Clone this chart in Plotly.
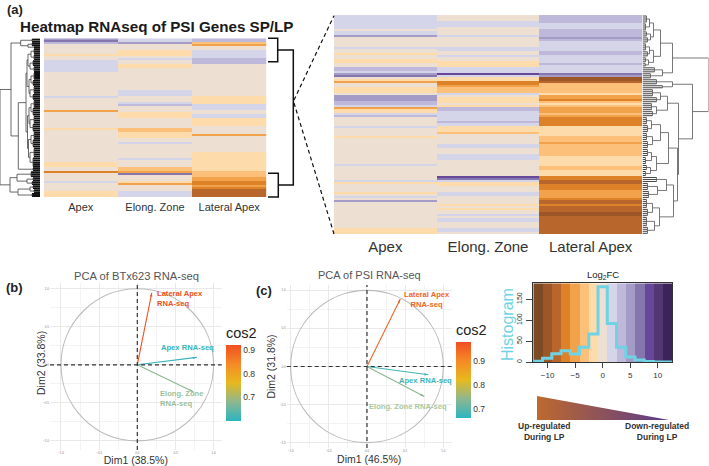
import math
import numpy as np
import plotly.graph_objects as go
from plotly.colors import sample_colorscale

W = 709
H = 466

# colour bands of the log2FC key, brown (up in LP) to purple (down in LP)
band_levels = [-7, -6, -5, -4, -3, -2, -1, 0, 1, 2, 3, 4, 5, 6, 7]
band_colors = ["#7D4A24", "#9C5628", "#B9662D", "#DD8229", "#F2A24A", "#FDC07A", "#FDDBAB", "#EDE0D2",
               "#D5D5E9", "#BEB8DA", "#A49BC6", "#8676AE", "#66479A", "#533775", "#3C2458"]
key_edges = [-12.6, -10.92, -9.24, -7.56, -5.88, -4.2, -2.52, -0.84, 0.84, 2.52, 4.2, 5.88, 7.56, 9.24, 10.92, 12.6]
hist_counts = [2, 9, 20, 27, 19, 35, 67, 180, 92, 35, 12, 5, 1, 0, 0]

columns = ["Apex", "Elong. Zone", "Lateral Apex"]

# heatmap columns as (band, number of rows), top to bottom
left_apex = [(3,1),(4,1),(2,1),(0,5),(-1,1),(0,2),(1,6),(0,12),(1,1),(0,6),(-3,1),(0,8),(-1,1),(0,16),
             (-1,3),(0,2),(-4,1),(0,4),(1,1),(0,4),(-1,3)]
left_elong = [(1,2),(3,1),(0,3),(-1,3),(0,1),(1,1),(0,2),(-1,2),(0,11),(1,3),(0,3),(1,1),(2,1),(0,3),(-1,3),
              (0,5),(-2,2),(-1,3),(0,2),(1,1),(0,7),(1,1),(0,4),(-2,2),(-3,1),(4,1),(0,3),(-1,1),(-3,1),(0,3),(1,3)]
left_lateral = [(2,2),(-2,1),(-3,1),(0,2),(1,4),(2,3),(0,16),(-1,4),(1,3),(0,2),(1,2),(-1,4),(0,4),(-3,1),
                (0,8),(-1,10),(-2,3),(-3,2),(-4,2),(-3,1),(-4,1),(-5,4)]

right_apex = [(1,7),(0,1),(1,2),(3,1),(0,5),(1,1),(0,2),(-1,1),(0,2),(-1,2),(0,2),(2,2),(1,1),(3,1),(4,1),(0,1),
              (-1,1),(-3,1),(0,2),(-1,3),(0,1),(3,3),(2,2),(1,1),(-3,1),(-1,2),(1,1),(2,1),(0,5),(1,1),(0,4),
              (-1,1),(0,13),(1,1),(0,7),(1,1),(-1,1),(0,4),(-1,1),(0,1),(1,1),(0,1),(3,1),(0,13),(-1,3)]
right_elong = [(0,3),(1,3),(0,4),(1,1),(0,5),(1,2),(0,2),(1,1),(0,2),(-1,3),(1,3),(5,1),(1,1),(-1,2),(-4,2),(-3,1),
               (-2,3),(1,1),(0,1),(-1,3),(0,1),(-1,1),(2,2),(1,5),(2,1),(1,2),(-1,3),(-2,1),(0,5),(1,2),(0,3),(1,3),
               (0,8),(5,1),(4,1),(1,1),(-1,2),(0,3),(1,2),(0,4),(-1,1),(0,1),(-1,1),(0,2),(1,1),(0,1),(1,2),(0,3),(1,2),(0,1)]
right_lateral = [(2,4),(1,3),(2,2),(2,2),(3,1),(2,1),(1,5),(2,2),(1,4),(2,1),(1,3),(1,1),(4,1),(3,1),(-6,2),(-5,1),
                 (-2,5),(-1,1),(-3,2),(-4,1),(-2,1),(-1,1),(-2,1),(-3,1),(-3,2),(-2,1),(-3,1),(-4,5),(-1,5),(-2,3),
                 (-3,1),(-2,6),(-1,5),(-2,2),(-1,3),(-4,2),(-5,2),(-4,3),(-3,4),(-4,1),(-5,2),(-4,1),(-5,3),(-6,2),(-5,9)]

# dendrograms: (height, child, child); a list is a bunch of rows [first, last, height]
left_tree = (40,
    (29,
     (19.3, [0,1,8], (12,[2,3,8],[4,4,6])),
     (21.7,
      (14,
       (13,(12,(9,[5,7,6],[8,10,6]),(10,[11,13,7],[14,16,6])),(11,(9,[17,20,6],[21,23,7]),(10,[24,27,6],[28,30,7]))),
       (12.5,(11,(9,[31,34,6],[35,38,7]),(10,[39,42,6],[43,46,7])),(11.5,(9,[47,50,6],[51,54,7]),(10,[55,59,6],[60,64,7])))),
      [65,66,7])),
    (30,
     (23,[67,69,9],(13,[70,71,7],[72,73,8])),
     (22,(10,[74,75,7],[76,77,6]),[78,79,8])))

right_tree = (66,
    (30,
     (18,(11,(7,[0,3,4],[4,7,3]),(8,[8,10,4],[11,13,5])),(11,(7,[14,17,3],[18,20,5]),(6,[21,23,3],[24,25,3]))),
     (20,[26,28,12],[29,31,8])),
    (50,
     (30,[32,34,14],[35,36,20]),
     (36,
      (25,(18,[37,40,10],[41,43,14]),(14,[44,47,9],[48,50,10])),
      (35,
       (26,(18,(9,[51,54,4],[55,58,5]),(10,[59,62,4],[63,66,5])),(14,(9,[67,70,5],[71,74,3]),(8,[75,77,4],[78,80,3]))),
       (31,(24,[81,83,14],(15,[84,87,5],[88,91,6])),(17,(10,[92,96,4],[97,100,5]),(12,[101,105,4],[106,109,5])))))))

# PCA loadings
b_names = ["Lateral Apex<br>RNA-seq", "Apex RNA-seq", "Elong. Zone<br>RNA-seq"]
b_dim1 = [0.19, 0.778, 0.734]
b_dim2 = [0.947, 0.097, -0.355]
b_cos2 = [0.92, 0.61, 0.68]
c_names = ["Lateral Apex<br>RNA-seq", "Apex RNA-seq", "Elong. Zone RNA-seq"]
c_dim1 = [0.437, 0.803, 0.751]
c_dim2 = [0.886, -0.109, -0.393]
c_cos2 = [0.95, 0.68, 0.74]

cos2_scale = [[0, "#2BB5C2"], [0.25, "#8DB78F"], [0.5, "#E7B91F"], [0.75, "#F58A26"], [1, "#F04E23"]]

FONT = "Liberation Sans"


def px_x(x):
    return x / W


def px_y(y):
    return 1 - y / H


def dom_x(a, b):
    return [px_x(a), px_x(b)]


def dom_y(a, b):
    return [px_y(b), px_y(a)]


def expand(runs):
    return np.repeat([r[0] for r in runs], [r[1] for r in runs])


def walk(node, xs, ys, sx, sy):
    # returns row position of node; stubs go to sx, sy and brackets to xs, ys
    if isinstance(node, list):
        first, last, h = node
        for r in range(first, last + 1):
            sx += [0, h, None]
            sy += [r, r, None]
        xs += [h, h, None]
        ys += [first, last, None]
        return (first + last) / 2, h
    h, a, b = node
    ya, ha = walk(a, xs, ys, sx, sy)
    yb, hb = walk(b, xs, ys, sx, sy)
    xs += [ha, h, h, hb, None]
    ys += [ya, ya, yb, yb, None]
    return (ya + yb) / 2, h


step_scale = []
for i, c in enumerate(band_colors):
    step_scale += [[i / 15, c], [(i + 1) / 15, c]]

fig = go.Figure()


def add_heat(cols, n, xa, ya):
    z = np.column_stack([expand(c) for c in cols])
    fig.add_trace(go.Heatmap(z=z, x=columns, y=list(range(n)), zmin=-7.5, zmax=7.5, colorscale=step_scale,
                             showscale=False, hoverinfo="skip", xaxis=xa, yaxis=ya))


def add_tree(tree, xa, ya, stub_color, stub_width, line_color):
    xs, ys, sx, sy = [], [], [], []
    walk(tree, xs, ys, sx, sy)
    fig.add_trace(go.Scatter(x=sx, y=sy, mode="lines", line=dict(color=stub_color, width=stub_width), xaxis=xa, yaxis=ya,
                             hoverinfo="skip"))
    fig.add_trace(go.Scatter(x=xs, y=ys, mode="lines", line=dict(color=line_color, width=0.8), xaxis=xa, yaxis=ya,
                             hoverinfo="skip"))


add_heat([left_apex, left_elong, left_lateral], 80, "x", "y")
add_heat([right_apex, right_elong, right_lateral], 110, "x2", "y2")
add_tree(left_tree, "x3", "y3", "#111111", 1.8, "#444444")
add_tree(right_tree, "x4", "y4", "#444444", 1, "#555555")


def add_pca(dim1, dim2, cos2, cmin, cmax, xa, ya, bar_x, bar_top):
    t = [(v - cmin) / (cmax - cmin) for v in cos2]
    cols = sample_colorscale(cos2_scale, t)
    for d1, d2, c in zip(dim1, dim2, cols):
        fig.add_trace(go.Scatter(x=[0, d1], y=[0, d2], mode="lines", line=dict(color=c, width=1.1),
                                 xaxis=xa, yaxis=ya, hoverinfo="skip"))
    angles = [math.degrees(math.atan2(d1, d2)) for d1, d2 in zip(dim1, dim2)]
    fig.add_trace(go.Scatter(
        x=dim1, y=dim2, mode="markers", xaxis=xa, yaxis=ya, hoverinfo="skip",
        marker=dict(symbol="arrow", size=4, angle=angles, color=cos2, cmin=cmin, cmax=cmax,
                    colorscale=cos2_scale, showscale=True,
                    colorbar=dict(x=px_x(bar_x), xanchor="left", y=px_y(bar_top - 21), yanchor="top",
                                  thickness=15, thicknessmode="pixels", len=96.5, lenmode="pixels",
                                  xpad=0, ypad=0, outlinewidth=0, ticks="", tickvals=[0.7, 0.8, 0.9],
                                  tickfont=dict(size=8.5, color="#333333", family=FONT),
                                  title=dict(text="cos2", side="top", font=dict(size=14.5, color="#222222", family=FONT))))))
    return cols


b_cols = add_pca(b_dim1, b_dim2, b_cos2, 0.6, 0.923, "x5", "y5", 226, 344.7)
c_cols = add_pca(c_dim1, c_dim2, c_cos2, 0.662, 0.98, "x6", "y6", 456, 342.3)

# histogram on its colour key
fig.add_trace(go.Heatmap(z=[band_levels], x=key_edges, y=[0, 188], zmin=-7.5, zmax=7.5, colorscale=step_scale,
                         showscale=False, hoverinfo="skip", xaxis="x7", yaxis="y7"))
fig.add_trace(go.Scatter(x=key_edges, y=hist_counts + [hist_counts[-1]], mode="lines", line=dict(shape="hv", color="#6FD3E3", width=3),
                         xaxis="x7", yaxis="y7", hoverinfo="skip", cliponaxis=False))

# gradient wedge under the key
fig.add_trace(go.Scatter(x=[0, 0, 1, 0], y=[0, 1, 0, 0], mode="lines", fill="toself", line=dict(width=0),
                         fillgradient=dict(type="horizontal", colorscale=[[0, "#BD6A2E"], [1, "#5B3A8A"]]),
                         xaxis="x8", yaxis="y8", hoverinfo="skip"))

hidden = dict(visible=False)
pca_axis = dict(tickvals=[-1, -0.5, 0, 0.5, 1], tickformat=".1f", tickfont=dict(size=3, color="#777777", family=FONT),
                showgrid=True, gridcolor="#E9E9E9", gridwidth=0.7, zeroline=False, ticks="",
                minor=dict(dtick=0.25, tick0=0, showgrid=True, gridcolor="#F3F3F3", gridwidth=0.5))
dim_font = dict(size=10.5, color="#333333", family=FONT)

fig.update_layout(
    width=W, height=H, margin=dict(l=0, r=0, t=0, b=0), autosize=False, showlegend=False,
    paper_bgcolor="white", plot_bgcolor="white", font=dict(family=FONT, color="#333333"),
    xaxis=dict(domain=dom_x(43.7, 266.3), anchor="y", ticks="", showgrid=False, zeroline=False, ticklabelstandoff=2,
               tickfont=dict(size=11, color="#333333", family=FONT)),
    yaxis=dict(domain=dom_y(38.3, 197), anchor="x", range=[79.5, -0.5], **hidden),
    xaxis2=dict(domain=dom_x(334, 642), anchor="y2", ticks="", showgrid=False, zeroline=False, ticklabelstandoff=2,
                tickfont=dict(size=15, color="#333333", family=FONT)),
    yaxis2=dict(domain=dom_y(15, 234.3), anchor="x2", range=[109.5, -0.5], **hidden),
    xaxis3=dict(domain=dom_x(0, 40), anchor="y3", range=[40, 0], **hidden),
    yaxis3=dict(domain=dom_y(38.3, 197), anchor="x3", range=[79.5, -0.5], **hidden),
    xaxis4=dict(domain=dom_x(642.5, 708.5), anchor="y4", range=[0, 66], **hidden),
    yaxis4=dict(domain=dom_y(15, 234.3), anchor="x4", range=[109.5, -0.5], **hidden),
    xaxis5=dict(domain=dom_x(50, 221.7), anchor="y5", range=[-1.144, 1.106],
                title=dict(text="Dim1 (38.5%)", font=dim_font, standoff=2), **pca_axis),
    yaxis5=dict(domain=dom_y(283, 450), anchor="x5", range=[-1.12, 1.075], **pca_axis),
    xaxis6=dict(domain=dom_x(286.7, 451.7), anchor="y6", range=[-1.052, 1.11],
                title=dict(text="Dim1 (46.5%)", font=dim_font, standoff=2), **pca_axis),
    yaxis6=dict(domain=dom_y(285, 448), anchor="x6", range=[-1.07, 1.07],
                title=dict(text="Dim2 (31.8%)", font=dim_font, standoff=2), **pca_axis),
    xaxis7=dict(domain=dom_x(533.3, 672), anchor="y7", range=[-12.6, 12.6], tickvals=[-10, -5, 0, 5, 10],
                ticks="outside", ticklen=5, tickcolor="#444444", showgrid=False, zeroline=False,
                showline=True, mirror=True, linecolor="#333333", linewidth=1,
                tickfont=dict(size=8, color="#333333", family=FONT)),
    yaxis7=dict(domain=dom_y(283.3, 362), anchor="x7", range=[0, 188], tickvals=[0, 50, 100, 150], tickangle=-90,
                ticks="outside", ticklen=6, tickcolor="#444444", showgrid=False, zeroline=False, ticklabelstandoff=2,
                showline=True, mirror=True, linecolor="#333333", linewidth=1,
                tickfont=dict(size=7, color="#333333", family=FONT)),
    xaxis8=dict(domain=dom_x(537, 669), anchor="y8", range=[0, 1], **hidden),
    yaxis8=dict(domain=dom_y(396, 420), anchor="x8", range=[0, 1], **hidden),
)

shapes = []


def path(points, width=1.5, dash="solid", color="#111111"):
    d = "M" + " L".join(f"{px_x(x):.5f},{px_y(y):.5f}" for x, y in points)
    shapes.append(dict(type="path", path=d, xref="paper", yref="paper", line=dict(color=color, width=width, dash=dash)))


# brackets and zoom guides between the two heatmaps
path([(268, 38.3), (277.7, 38.3), (277.7, 61.7), (268, 61.7)])
path([(277.7, 50), (293.3, 50), (293.3, 185), (279, 185)])
path([(268, 173.3), (278.3, 173.3), (278.3, 197), (268, 197)])
path([(294, 100), (334, 15.7)], width=1.2, dash="4px,3px")
path([(294, 103), (334, 234)], width=1.2, dash="4px,3px")

for xa, ya in [("x5", "y5"), ("x6", "y6")]:
    shapes.append(dict(type="circle", xref=xa, yref=ya, x0=-1, x1=1, y0=-1, y1=1, line=dict(color="#BBBBBB", width=1.1)))
    shapes.append(dict(type="line", xref=xa + " domain", yref=ya, x0=0, x1=1, y0=0, y1=0,
                       line=dict(color="#333333", width=1.2, dash="4px,3px")))
    shapes.append(dict(type="line", xref=xa, yref=ya + " domain", x0=0, x1=0, y0=0, y1=1,
                       line=dict(color="#333333", width=1.2, dash="4px,3px")))
fig.update_layout(shapes=shapes)


def label(x, y, text, size, color="#222222", bold=False, angle=0):
    if bold:
        text = f"<b>{text}</b>"
    fig.add_annotation(x=px_x(x), y=px_y(y), xref="paper", yref="paper", text=text, showarrow=False, textangle=angle,
                       font=dict(size=size, color=color, family=FONT), xanchor="center", yanchor="middle")


label(14.5, 10, "(a)", 13, bold=True)
label(156.5, 27, "Heatmap RNAseq of PSI Genes SP/LP", 15.2, color="#1a1a1a", bold=True)
label(14.5, 287, "(b)", 13, bold=True)
label(263.5, 290, "(c)", 13, bold=True)
label(136, 276, "PCA of BTx623 RNA-seq", 11.2, color="#555555")
label(369, 275, "PCA of PSI RNA-seq", 11, color="#555555")
label(41, 363, "Dim2 (33.8%)", 10.5, color="#333333", angle=-90)
label(603, 275, "Log<sub>2</sub>FC", 9.5)
label(507, 325, "Histogram", 16, color="#6FD3E3", angle=-90)
label(544, 431, "Up-regulated<br>During LP", 8.5, color="#333333", bold=True)
label(657, 431, "Down-regulated<br>During LP", 8.5, color="#333333", bold=True)


def loading_label(xa, ya, x, y, text, color, anchor):
    fig.add_annotation(x=x, y=y, xref=xa, yref=ya, text=f"<b>{text}</b>", showarrow=False, xanchor=anchor, yanchor="middle",
                       align=anchor if anchor != "center" else "center", font=dict(size=7.6, color=color, family=FONT))


loading_label("x5", "y5", 0.236, 0.868, b_names[0], b_cols[0], "left")
loading_label("x5", "y5", 0.28, 0.229, b_names[1], b_cols[1], "left")
loading_label("x5", "y5", 0.271, -0.438, b_names[2], "#9CBF9C", "left")
loading_label("x6", "y6", 0.786, 0.882, c_names[0], c_cols[0], "center")
loading_label("x6", "y6", 0.764, -0.179, c_names[1], c_cols[1], "center")
loading_label("x6", "y6", 0.537, -0.524, c_names[2], "#A8C8A0", "center")

# the page's default body margin would push the figure off the window
fig.write_html("out.html", config={"displayModeBar": False}, post_script="document.body.style.margin='0';")
